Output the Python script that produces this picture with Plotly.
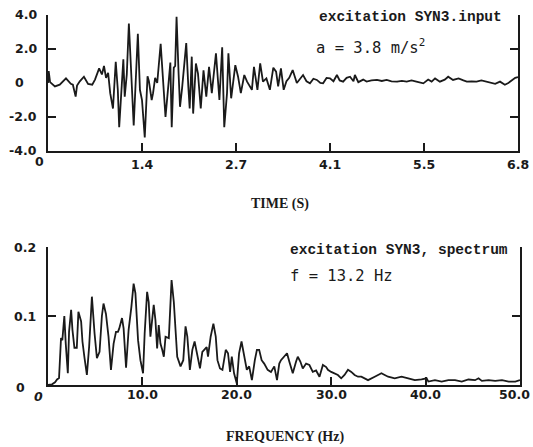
import plotly.graph_objects as go

# ---- data ----
time_s = [0.00, 0.01, 0.03, 0.10, 0.17, 0.26, 0.33, 0.36, 0.40, 0.42, 0.46, 0.52, 0.58, 0.64, 0.68,
          0.74, 0.78, 0.81, 0.84, 0.87, 0.90, 0.94, 0.98, 1.01, 1.03, 1.06, 1.09, 1.11, 1.14, 1.17,
          1.20, 1.22, 1.24, 1.30, 1.33, 1.36, 1.40, 1.44, 1.46, 1.50, 1.52, 1.55, 1.58, 1.63, 1.67,
          1.70, 1.74, 1.77, 1.79, 1.82, 1.84, 1.86, 1.89, 1.91, 1.94, 2.00, 2.03, 2.05, 2.08, 2.10,
          2.14, 2.17, 2.21, 2.25, 2.29, 2.33, 2.37, 2.43, 2.48, 2.52, 2.55, 2.59, 2.61, 2.65, 2.71,
          2.75, 2.79, 2.84, 2.88, 2.95, 2.98, 3.03, 3.07, 3.11, 3.16, 3.21, 3.26, 3.30, 3.33, 3.37,
          3.41, 3.45, 3.49, 3.54, 3.60, 3.65, 3.69, 3.74, 3.79, 3.84, 3.89, 3.94, 3.98, 4.03, 4.08,
          4.13, 4.18, 4.22, 4.27, 4.32, 4.37, 4.42, 4.44, 4.49, 4.51, 4.56, 4.61, 4.68, 4.76, 4.83,
          4.90, 4.97, 5.05, 5.12, 5.19, 5.26, 5.33, 5.43, 5.50, 5.55, 5.60, 5.67, 5.74, 5.79, 5.86,
          5.94, 6.01, 6.06, 6.13, 6.20, 6.27, 6.35, 6.42, 6.47, 6.54, 6.61, 6.66, 6.71, 6.76, 6.80]
accel = [0.0, 0.7, 0.05, -0.2, -0.1, 0.27, -0.05, -0.1, -0.8, -0.15, 0.1, 0.37, -0.05, -0.1, 0.2,
         0.86, 0.5, 1.0, 0.3, 0.6, -0.6, -1.5, 1.25, -0.4, -2.6, -0.2, 1.4, -0.8, 0.5, 3.5,
         1.2, -0.5, -2.5, 2.9, -0.4, -1.0, -3.2, 0.4, 0.1, -1.0, -0.6, 0.3, 0.0, 2.3, -0.5,
         -2.0, -0.2, 1.2, -2.6, 0.9, 1.0, 3.9, 0.5, -1.4, -0.3, 2.35, -0.2, -1.5, 1.55, -1.8,
         1.15, 0.55, -1.5, 0.75, -0.8, 0.95, -0.6, 1.75, -1.0, 2.1, -2.6, -0.6, 1.75, -0.9, 1.05,
         0.37, -0.6, 0.47, 0.08, -0.4, 0.95, -0.4, 1.15, 0.08, 0.27, -0.4, 0.9, 0.67, -0.2, 0.86,
         -0.4, 0.1, 0.3, 0.76, 0.0, 0.3, 0.47, 0.1, -0.02, 0.25, 0.18, 0.0, -0.02, 0.3, 0.27,
         0.1, 0.47, 0.15, 0.08, 0.3, 0.37, 0.1, 0.47, 0.05, 0.08, 0.2, 0.08, 0.15, 0.18, 0.12,
         0.18, 0.1, 0.08, 0.12, 0.08, 0.15, 0.08, -0.02, 0.2, 0.08, 0.27, 0.08, 0.2, 0.37, 0.18,
         0.27, 0.15, 0.08, 0.1, 0.08, 0.15, 0.08, 0.0, -0.05, 0.08, -0.1, 0.0, 0.15, 0.3, 0.35]

freq_hz = [0.0, 0.43, 0.74, 0.96, 1.17, 1.28, 1.38, 1.52, 1.63, 1.73, 1.88, 2.10, 2.23, 2.45, 2.59,
           2.80, 3.05, 3.22, 3.51, 3.65, 3.86, 4.12, 4.36, 4.65, 4.93, 5.18, 5.46, 5.71, 5.88, 6.14,
           6.41, 6.67, 6.95, 7.20, 7.41, 7.55, 7.84, 8.01, 8.27, 8.54, 8.83, 9.07, 9.26, 9.54, 9.79,
           10.07, 10.24, 10.50, 10.67, 10.85, 11.03, 11.20, 11.38, 11.56, 11.73, 11.91, 12.10, 12.27, 12.45, 12.80,
           13.09, 13.33, 13.51, 13.69, 14.04, 14.33, 14.57, 14.76, 15.03, 15.29, 15.53, 15.82, 16.10, 16.35, 16.52,
           16.81, 16.95, 17.23, 17.52, 17.77, 17.95, 18.22, 18.48, 18.83, 19.07, 19.29, 19.47, 19.71, 20.00, 20.24,
           20.50, 20.78, 21.06, 21.31, 21.60, 21.91, 22.13, 22.37, 22.63, 22.90, 23.27, 23.62, 23.97, 24.26, 24.50,
           24.68, 25.03, 25.32, 25.56, 25.93, 26.28, 26.46, 26.73, 26.99, 27.34, 27.69, 28.05, 28.40, 28.76, 29.12,
           29.47, 29.65, 30.00, 30.35, 30.71, 31.06, 31.41, 31.78, 32.13, 32.48, 32.84, 33.19, 33.90, 34.61, 34.97,
           35.32, 35.67, 36.03, 36.73, 37.45, 38.16, 38.86, 39.57, 40.11, 40.29, 40.99, 41.70, 42.41, 43.12, 43.83,
           44.54, 45.24, 45.61, 45.96, 46.67, 47.37, 48.09, 48.80, 49.50, 50.0]
spectrum = [0.0, 0.001, 0.004, 0.008, 0.01, 0.05, 0.068, 0.065, 0.083, 0.10, 0.06, 0.017, 0.077, 0.109, 0.08,
            0.054, 0.054, 0.106, 0.092, 0.063, 0.04, 0.0145, 0.056, 0.128, 0.075, 0.039, 0.048, 0.10, 0.118, 0.103,
            0.070, 0.022, 0.060, 0.077, 0.077, 0.082, 0.097, 0.082, 0.025, 0.080, 0.113, 0.147, 0.133, 0.065, 0.036,
            0.017, 0.075, 0.135, 0.120, 0.070, 0.094, 0.116, 0.094, 0.053, 0.087, 0.060, 0.051, 0.041, 0.070, 0.068,
            0.152, 0.12, 0.08, 0.041, 0.027, 0.036, 0.085, 0.070, 0.022, 0.051, 0.063, 0.041, 0.024, 0.048, 0.051,
            0.055, 0.041, 0.070, 0.089, 0.070, 0.036, 0.024, 0.022, 0.051, 0.046, 0.019, 0.041, 0.017, 0.002, 0.046,
            0.063, 0.041, 0.022, 0.027, 0.007, 0.036, 0.051, 0.051, 0.036, 0.031, 0.022, 0.019, 0.027, 0.007, 0.031,
            0.036, 0.041, 0.046, 0.034, 0.017, 0.034, 0.041, 0.034, 0.024, 0.031, 0.029, 0.019, 0.021, 0.012, 0.029,
            0.026, 0.022, 0.019, 0.017, 0.0145, 0.0097, 0.0145, 0.022, 0.019, 0.0145, 0.012, 0.012, 0.007, 0.012, 0.0145,
            0.017, 0.0145, 0.012, 0.0097, 0.012, 0.0097, 0.007, 0.008, 0.0097, 0.005, 0.007, 0.005, 0.007, 0.007, 0.005,
            0.008, 0.007, 0.0097, 0.006, 0.007, 0.006, 0.007, 0.005, 0.005, 0.007]

time_ticks = [1.36, 2.72, 4.08, 5.44, 6.8]
time_tick_text = ["1.4", "2.7", "4.1", "5.5", "6.8"]
acc_ticks = [4, 2, -2, -4]
acc_tick_text = ["4.0", "2.0", "-2.0", "-4.0"]
freq_ticks = [10, 20, 30, 40, 50]
freq_tick_text = ["10.0", "20.0", "30.0", "40.0", "50.0"]
spec_ticks = [0.2, 0.1]
spec_tick_text = ["0.2", "0.1"]

W, H = 533, 447
INK = "#1a1a1a"


def px(x):
    return x / W


def py(y):
    return 1 - y / H


fig = go.Figure()
fig.add_trace(go.Scatter(x=time_s, y=accel, mode="lines", line=dict(color=INK, width=1.8),
                         xaxis="x", yaxis="y", showlegend=False, hoverinfo="skip"))
fig.add_trace(go.Scatter(x=freq_hz, y=spectrum, mode="lines", line=dict(color=INK, width=1.8),
                         xaxis="x2", yaxis="y2", showlegend=False, hoverinfo="skip"))

axis_common = dict(showgrid=False, zeroline=False, showline=True, linecolor=INK, linewidth=2,
                   ticks="inside", ticklen=8, tickwidth=2, tickcolor=INK, showticklabels=False)

fig.update_layout(
    width=W, height=H, margin=dict(l=0, r=0, t=0, b=0),
    paper_bgcolor="white", plot_bgcolor="white",
    xaxis=dict(domain=[px(48), px(518)], range=[0, 6.8], tickvals=time_ticks, anchor="y", **axis_common),
    yaxis=dict(domain=[py(151), py(15)], range=[-4, 4], tickvals=acc_ticks, anchor="x", mirror="ticks",
               **axis_common),
    xaxis2=dict(domain=[px(48), px(520)], range=[0, 50], tickvals=freq_ticks, anchor="y2", **axis_common),
    yaxis2=dict(domain=[py(385), py(247)], range=[0, 0.2], tickvals=spec_ticks, anchor="x2", mirror="ticks",
                **axis_common),
)

tick_font = dict(family="DejaVu Sans", size=12.5, color=INK, weight="bold")
ital_font = dict(family="DejaVu Sans", size=12.5, color=INK, weight="bold", style="italic")
ann = []
# y tick labels (top)
for v, t in zip(acc_ticks, acc_tick_text):
    ann.append(dict(x=px(39), y=v, xref="paper", yref="y", text=t, showarrow=False,
                    xanchor="right", yanchor="middle", font=tick_font))
ann.append(dict(x=px(13), y=0, xref="paper", yref="y", text="0", showarrow=False,
                xanchor="left", yanchor="middle", font=tick_font))
# x tick labels (top)
for v, t in zip(time_ticks, time_tick_text):
    ann.append(dict(x=v, y=py(164), xref="x", yref="paper", text=t, showarrow=False,
                    xanchor="center", yanchor="middle", font=tick_font))
ann.append(dict(x=px(39), y=py(162), xref="paper", yref="paper", text="0", showarrow=False,
                xanchor="center", yanchor="middle", font=tick_font))
# y tick labels (bottom)
for v, t in zip(spec_ticks, spec_tick_text):
    ann.append(dict(x=px(38), y=v, xref="paper", yref="y2", text=t, showarrow=False,
                    xanchor="right", yanchor="middle", font=tick_font))
ann.append(dict(x=px(14), y=py(387), xref="paper", yref="paper", text="0", showarrow=False,
                xanchor="left", yanchor="middle", font=tick_font))
# x tick labels (bottom)
for v, t in zip(freq_ticks[:-1], freq_tick_text[:-1]):
    ann.append(dict(x=v, y=py(394), xref="x2", yref="paper", text=t, showarrow=False,
                    xanchor="center", yanchor="middle", font=tick_font))
ann.append(dict(x=px(532), y=py(394), xref="paper", yref="paper", text=freq_tick_text[-1],
                showarrow=False, xanchor="right", yanchor="middle", font=tick_font))
ann.append(dict(x=px(38), y=py(396), xref="paper", yref="paper", text="0", showarrow=False,
                xanchor="center", yanchor="middle", font=ital_font))

# axis titles
title_font = dict(family="Liberation Serif", size=14, color=INK, weight="bold")
ann.append(dict(x=px(280), y=py(204), xref="paper", yref="paper", text="TIME (S)", showarrow=False,
                xanchor="center", yanchor="middle", font=title_font))
ann.append(dict(x=px(285), y=py(437), xref="paper", yref="paper", text="FREQUENCY (Hz)", showarrow=False,
                xanchor="center", yanchor="middle", font=title_font))

# in-plot labels
lab_font = dict(family="Liberation Mono", size=14.5, color=INK, weight="bold")
plot_font = dict(family="DejaVu Sans Mono", size=15.5, color=INK)
ann.append(dict(x=px(317), y=py(17), xref="paper", yref="paper", text="excitation SYN3.input",
                showarrow=False, xanchor="left", yanchor="middle", font=lab_font))
ann.append(dict(x=px(314), y=py(46), xref="paper", yref="paper", text="a = 3.8 m/s<sup>2</sup>",
                showarrow=False, xanchor="left", yanchor="middle", font=plot_font))
ann.append(dict(x=px(288), y=py(250), xref="paper", yref="paper", text="excitation SYN3, spectrum",
                showarrow=False, xanchor="left", yanchor="middle", font=lab_font))
ann.append(dict(x=px(288), y=py(276), xref="paper", yref="paper", text="f = 13.2 Hz",
                showarrow=False, xanchor="left", yanchor="middle", font=plot_font))

fig.update_layout(annotations=ann)
fig.write_html("out.html")
